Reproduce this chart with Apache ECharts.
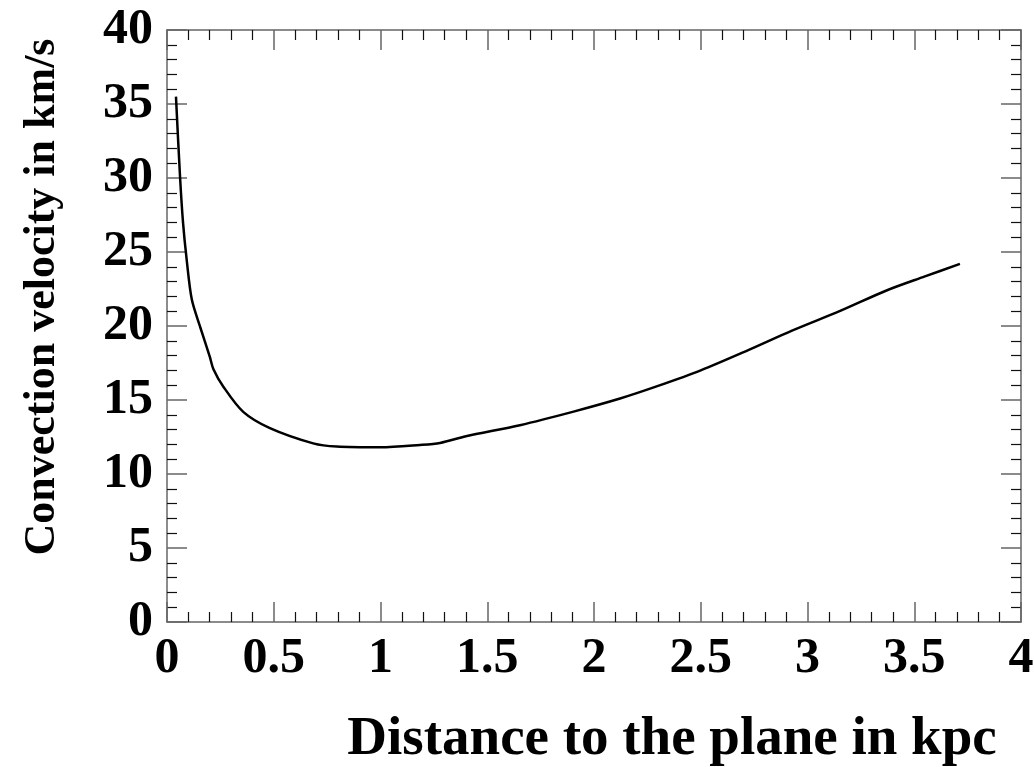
<!DOCTYPE html>
<html>
<head>
<meta charset="utf-8">
<script src="https://cdn.jsdelivr.net/npm/echarts@6/dist/echarts.min.js"></script>
<style>
    html, body { margin: 0; padding: 0; background: #fff; }
    #chart { width: 1034px; height: 767px; }
</style>
</head>
<body>
<div id="chart"></div>
<script>
// distance to the plane (kpc) and convection velocity (km/s)
const distance = [0.042, 0.061, 0.075, 0.092, 0.116, 0.155, 0.201, 0.217, 0.264, 0.357, 0.482, 0.685, 0.795, 1.0, 1.185, 1.279, 1.4, 1.653, 1.9, 2.122, 2.3, 2.5, 2.72, 2.93, 3.15, 3.37, 3.55, 3.714];
const velocity = [35.5, 30.1, 27.0, 24.5, 21.8, 19.95, 17.9, 17.1, 15.9, 14.2, 13.1, 12.07, 11.85, 11.8, 11.96, 12.1, 12.55, 13.3, 14.2, 15.1, 15.95, 17.0, 18.35, 19.7, 21.0, 22.4, 23.35, 24.2];

const xTitle = "Distance to the plane in kpc";
const yTitle = "Convection velocity in km/s";

const fontFamily = "'Liberation Serif', 'DejaVu Serif', serif";

const chart = echarts.init(document.getElementById("chart"));

// shared tick style, ticks point inward like the original
const ticks = {
    axisLine: { show: true, onZero: false, lineStyle: { color: "#666", width: 1.5 } },
    axisTick: { show: true, inside: true, length: 20, lineStyle: { color: "#666", width: 1.5 } },
    minorTick: { show: true, splitNumber: 5, length: 10, lineStyle: { color: "#111", width: 1.2 } },
    splitLine: { show: false },
    minorSplitLine: { show: false },
};

const label = {
    color: "#000",
    fontFamily: fontFamily,
    fontWeight: "bold",
    fontSize: 50,
};

chart.setOption({
    animation: false,
    grid: {
        left: 167,
        right: 13,
        top: 30,
        bottom: 145,
        containLabel: false,
        outerBoundsMode: "none",
    },
    xAxis: [
        {
            type: "value",
            min: 0,
            max: 4,
            interval: 0.5,
            ...ticks,
            axisLabel: { ...label, margin: 12, showMinLabel: true, showMaxLabel: true },
            name: xTitle,
            nameLocation: "middle",
            nameGap: 90,
            nameTextStyle: {
                color: "#000",
                fontFamily: fontFamily,
                fontWeight: "bold",
                fontSize: 55,
                padding: [0, 0, 0, 156],
            },
        },
        {
            type: "value",
            position: "top",
            min: 0,
            max: 4,
            interval: 0.5,
            ...ticks,
            axisLabel: { show: false },
        },
    ],
    yAxis: [
        {
            type: "value",
            min: 0,
            max: 40,
            interval: 5,
            ...ticks,
            axisLabel: { ...label, margin: 14 },
            name: yTitle,
            nameLocation: "middle",
            nameGap: 102,
            nameTextStyle: {
                color: "#000",
                fontFamily: fontFamily,
                fontWeight: "bold",
                fontSize: 44,
                padding: [0, 0, 0, 58],
            },
        },
        {
            type: "value",
            position: "right",
            min: 0,
            max: 40,
            interval: 5,
            ...ticks,
            axisLabel: { show: false },
        },
    ],
    series: [
        {
            type: "line",
            data: distance.map((d, i) => [d, velocity[i]]),
            smooth: 0.3,
            showSymbol: false,
            lineStyle: { color: "#000", width: 2.5 },
        },
    ],
});
</script>
</body>
</html>
